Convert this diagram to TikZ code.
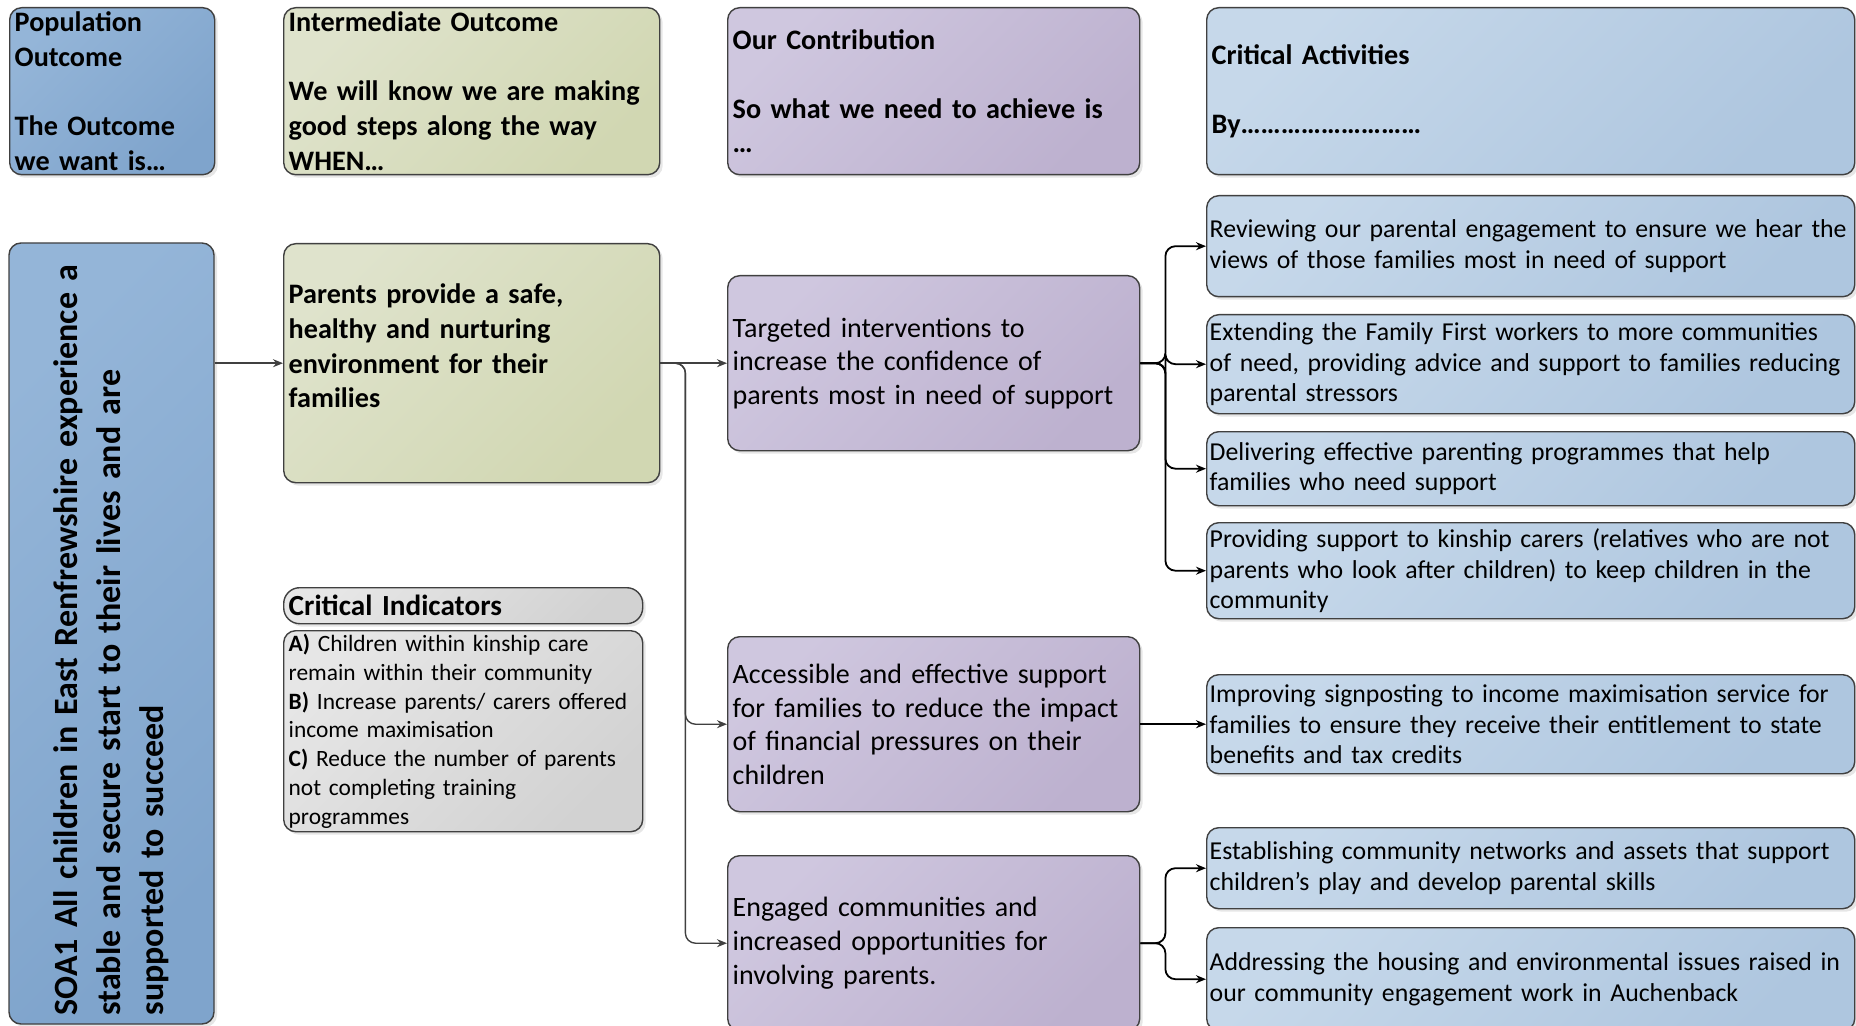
\documentclass[tikz,border=0pt]{standalone}
\usepackage{fontspec}
\setmainfont{Carlito}
\usetikzlibrary{arrows.meta,shadows}

\definecolor{edgegray}{HTML}{404040}
\definecolor{popA}{HTML}{94B5D8}
\definecolor{popB}{HTML}{7FA4CC}
\definecolor{midA}{HTML}{DFE3CC}
\definecolor{midB}{HTML}{D1D7B2}
\definecolor{ourA}{HTML}{CFC7DF}
\definecolor{ourB}{HTML}{BDB1CF}
\definecolor{actA}{HTML}{C6D8EA}
\definecolor{actB}{HTML}{AEC6DF}
\definecolor{indA}{HTML}{E6E6E6}
\definecolor{indB}{HTML}{D2D2D2}

\tikzset{
  card/.style={draw=edgegray, line width=0.7pt, rounded corners=6pt,
    anchor=north west, align=left, inner xsep=2.5pt, inner ysep=0pt,
    drop shadow={opacity=0.2, shadow xshift=1.5pt, shadow yshift=-1.5pt}},
  popcard/.style={card, top color=popA, bottom color=popB, shading angle=45},
  midcard/.style={card, top color=midA, bottom color=midB, shading angle=45},
  ourcard/.style={card, top color=ourA, bottom color=ourB, shading angle=45},
  actcard/.style={card, top color=actA, bottom color=actB, shading angle=45,
    inner xsep=1.5pt, text width=321pt, font=\fontsize{12.9}{15.4}\selectfont},
  indcard/.style={card, top color=indA, bottom color=indB, shading angle=45,
    text width=174.5pt},
  hdrfont/.style={font=\fontsize{14.1}{17.3}\selectfont\bfseries},
  ourfont/.style={font=\fontsize{14}{16.8}\selectfont},
  link/.style={draw=edgegray, line width=0.7pt, rounded corners=5pt,
    -{Stealth[length=5pt,width=4pt]}},
  fork/.style={link, draw=black, line width=0.9pt}
}

\begin{document}
\begin{tikzpicture}[x=0.5pt,y=-0.5pt]
  \useasboundingbox (0,0) rectangle (1856,1026);

  % column headings
  \node[popcard, hdrfont, text width=97.5pt, minimum height=83.5pt] (pop) at (9,7)
    {Population\\Outcome\\~\\The Outcome\\we want is…};
  \node[midcard, hdrfont, text width=183pt, minimum height=83.5pt] (inter) at (283,7)
    {Intermediate Outcome\\~\\We will know we are making\\good steps along the way\\WHEN…};
  \node[ourcard, hdrfont, text width=201pt, minimum height=83.5pt] (contrib) at (727,7)
    {Our Contribution\\~\\So what we need to achieve is\\…};
  \node[actcard, hdrfont, inner xsep=2.5pt, text width=319pt, minimum height=83.5pt] (crit) at (1206,7)
    {Critical Activities\\~\\By………………………};

  % outcome and indicators
  \node[popcard, rotate=90, anchor=center, minimum width=390.5pt, minimum height=102.5pt,
    inner xsep=4pt, text width=382pt, font=\fontsize{17}{21.5}\selectfont\bfseries]
    (soa) at (111.5,633.5)
    {SOA1 All children in East Renfrewshire experience a\\stable and secure start to their lives and are\\supported to succeed};
  \node[midcard, hdrfont, text width=183pt, minimum height=119.5pt] (parents) at (283,243)
    {Parents provide a safe,\\healthy and nurturing\\environment for their\\families\\~};
  \node[indcard, font=\fontsize{14.6}{16}\selectfont\bfseries, minimum height=18pt,
    rounded corners=8pt] (indhead) at (283,587) {Critical Indicators};
  \node[indcard, font=\fontsize{11.7}{14.4}\selectfont, minimum height=100.5pt] (indbody) at (283,630)
    {\textbf{A)} Children within kinship care\\remain within their community\\%
     \textbf{B)} Increase parents/ carers offered\\income maximisation\\%
     \textbf{C)} Reduce the number of parents\\not completing training\\programmes};

  % contributions
  \node[ourcard, ourfont, text width=201pt, minimum height=87.5pt] (targ) at (727,275)
    {Targeted interventions to\\increase the confidence of\\parents most in need of support};
  \node[ourcard, ourfont, text width=201pt, minimum height=87.5pt] (access) at (727,636)
    {Accessible and effective support\\for families to reduce the impact\\of financial pressures on their\\children};
  \node[ourcard, ourfont, text width=201pt, minimum height=87.5pt] (engage) at (727,855)
    {Engaged communities and\\increased opportunities for\\involving parents.};

  % activities
  \node[actcard, minimum height=50.5pt] (act1) at (1206,195)
    {Reviewing our parental engagement to ensure we hear the\\views of those families most in need of support};
  \node[actcard, minimum height=49.5pt] (act2) at (1206,314)
    {Extending the Family First workers to more communities\\of need, providing advice and support to families reducing\\parental stressors};
  \node[actcard, minimum height=37pt] (act3) at (1206,431)
    {Delivering effective parenting programmes that help\\families who need support};
  \node[actcard, minimum height=48pt] (act4) at (1206,522)
    {Providing support to kinship carers (relatives who are not\\parents who look after children) to keep children in the\\community};
  \node[actcard, minimum height=49.5pt] (act5) at (1206,674)
    {Improving signposting to income maximisation service for\\families to ensure they receive their entitlement to state\\benefits and tax credits};
  \node[actcard, minimum height=40.5pt] (act6) at (1206,827)
    {Establishing community networks and assets that support\\children’s play and develop parental skills};
  \node[actcard, minimum height=51.5pt] (act7) at (1206,927)
    {Addressing the housing and environmental issues raised in\\our community engagement work in Auchenback};

  % connectors
  \draw[link] (soa.south |- parents.west) -- (parents.west);
  \draw[link] (parents.east) -- (targ.west);
  \draw[link] (parents.east) -- ++(12.5pt,0) |- (access.west);
  \draw[link] (parents.east) -- ++(12.5pt,0) |- (engage.west);
  \foreach \t in {act1,act2,act3,act4}
    \draw[fork] (targ.east) -- ++(12.5pt,0) |- (\t.west);
  \draw[fork] (access.east) -- (act5.west);
  \foreach \t in {act6,act7}
    \draw[fork] (engage.east) -- ++(12.5pt,0) |- (\t.west);
\end{tikzpicture}
\end{document}
